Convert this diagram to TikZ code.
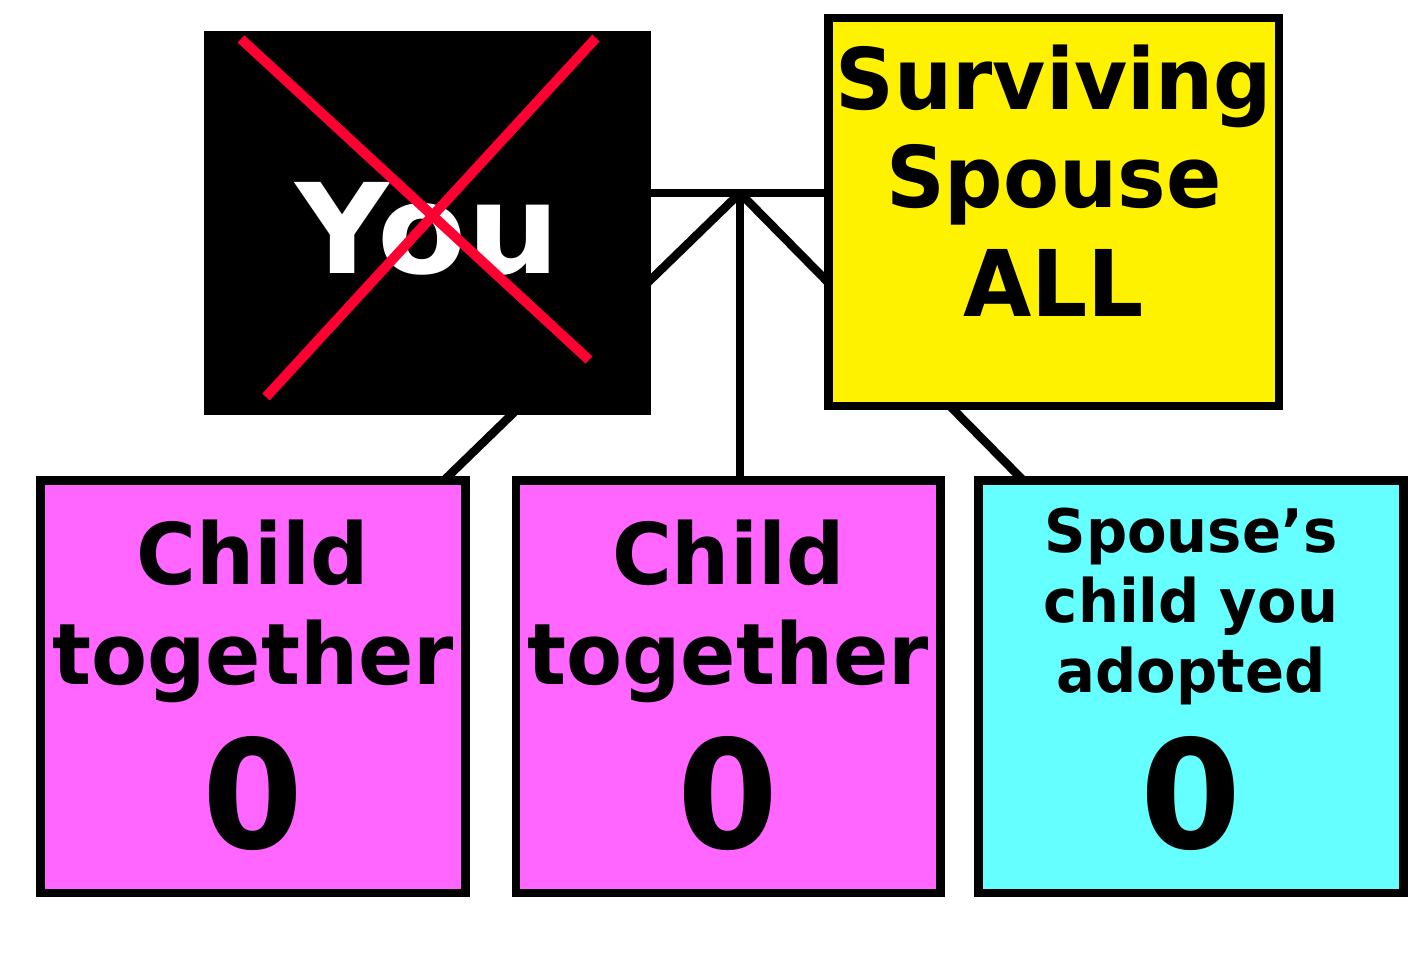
\documentclass[tikz,border=0pt]{standalone}
\usepackage{fontspec}
\setmainfont{DejaVu Sans}
\newfontfamily\boxfont{DejaVu Sans}[FakeStretch=0.96]
\newfontfamily\youfont{DejaVu Sans}[FakeStretch=1.04]
\usetikzlibrary{calc,backgrounds}
\definecolor{crossred}{RGB}{255,0,51}
\definecolor{childpink}{RGB}{255,102,255}
\definecolor{stepcyan}{RGB}{102,255,255}

\begin{document}
\begin{tikzpicture}[x=1pt, y=-1pt,
  box/.style={draw=black, line width=8.5pt, inner sep=0pt, align=center},
  link/.style={draw=black, line width=8.5pt}]
  \useasboundingbox (0,0) rectangle (1408,967);
  % people
  \node[box, draw=none, fill=black, text=white, minimum width=447, minimum height=384,
    text height=100pt, text depth=0pt, font=\youfont\bfseries\fontsize{125}{125}\selectfont]
    (you) at (427.5,223) {You};
  \node[box, fill=yellow, minimum width=450.5, minimum height=388, text depth=62pt,
    font=\boxfont\bfseries\fontsize{85}{98}\selectfont]
    (spouse) at (1053.75,212) {Surviving\\Spouse\\[11pt]\fontsize{92}{92}\selectfont ALL};
  % children
  \node[box, fill=childpink, minimum width=425, minimum height=412.5, text depth=5pt,
    font=\boxfont\bfseries\fontsize{85}{100}\selectfont]
    (child1) at (253,686.75) {Child\\together\\[32pt]\fontsize{151}{151}\selectfont 0};
  \node[box, fill=childpink, minimum width=424.5, minimum height=412.5, text depth=5pt,
    font=\boxfont\bfseries\fontsize{85}{100}\selectfont]
    (child2) at (728.25,686.75) {Child\\together\\[32pt]\fontsize{151}{151}\selectfont 0};
  \node[box, fill=stepcyan, minimum width=425, minimum height=412.5, text depth=17pt,
    font=\boxfont\bfseries\fontsize{60}{70}\selectfont]
    (child3) at (1191,686.75) {Spouse’s\\child you\\adopted\\[31pt]\fontsize{151}{151}\selectfont 0};
  % family lines, behind the boxes
  \coordinate (jn) at (740,193);
  \begin{scope}[on background layer]
    \draw[link] (you |- jn) -- (spouse |- jn); % marriage
    \draw[link] (jn) -- ($(child1.north)+(187,8)$);
    \draw[link] (jn) -- (jn |- child2.center);
    \draw[link] (jn) -- ($(child3.north)+(-164,8)$);
  \end{scope}
  % cross over you
  \draw[crossred, line width=10pt] (241,39) -- (589,360);
  \draw[crossred, line width=10pt] (596,38) -- (266,397);
\end{tikzpicture}
\end{document}
